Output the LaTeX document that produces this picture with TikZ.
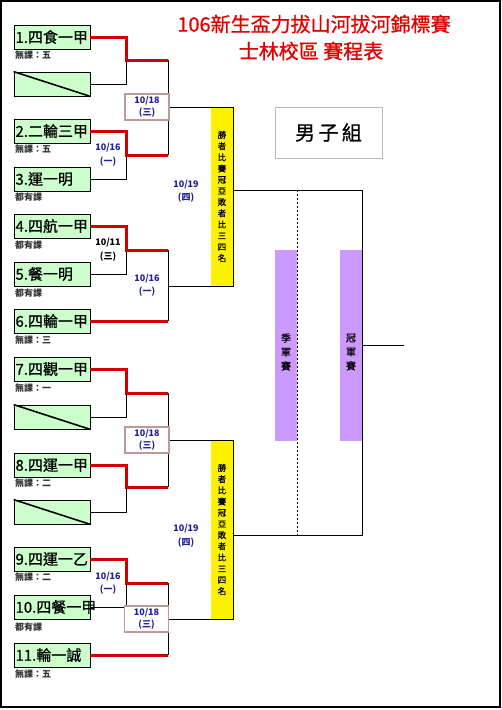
\documentclass[tikz,border=0pt]{standalone}
\usepackage{fontspec}
\setmainfont{Noto Sans CJK TC}
\newfontfamily\cjkmid{Noto Sans CJK TC}[FakeBold=0.8]
\definecolor{teamgreen}{HTML}{CCFFCC}
\definecolor{redline}{HTML}{D00000}
\definecolor{titlered}{HTML}{E00000}
\definecolor{roseb}{HTML}{C09A9A}
\definecolor{dateblue}{HTML}{1F1FA0}
\definecolor{purp}{HTML}{CC99FF}
\definecolor{subgray}{HTML}{333333}
\begin{document}
\begin{tikzpicture}[x=1pt,y=-1pt,
  team/.style={draw=black, line width=0.8pt, fill=teamgreen, minimum width=76pt, minimum height=24pt, inner xsep=1.5pt, inner ysep=0pt, text width=73pt, align=left, font=\fontsize{15}{15}\cjkmid},
  sub/.style={anchor=west, inner sep=0pt, font=\fontsize{9}{9}\selectfont\bfseries, text=subgray},
  win/.style={draw=redline, line width=3pt},
  lose/.style={draw=black, line width=0.9pt},
  datebox/.style={draw=roseb, line width=1.3pt, fill=white, minimum width=44pt, minimum height=26pt, inner sep=0pt, align=center, font=\fontsize{9}{12}\selectfont\bfseries, text=dateblue},
  datelbl/.style={align=center, inner sep=0pt, font=\fontsize{9}{13.5}\selectfont\bfseries, text=dateblue},
  ybar/.style={fill=yellow, draw=none, minimum width=22pt, inner sep=0pt, align=center, font=\fontsize{8.5}{11.2}\cjkmid},
  pbar/.style={fill=purp, draw=none, minimum width=22pt, minimum height=191pt, inner sep=0pt},
  vtext/.style={align=center, inner sep=0pt, font=\fontsize{10}{14}\cjkmid}
]
\useasboundingbox (0,0) rectangle (502,710);
\draw[line width=1.5pt] (1,1) rectangle (500,707);

% title
\node[font=\fontsize{20}{20}\cjkmid, text=titlered, inner sep=0pt] (title1) at (314,24) {106新生盃力拔山河拔河錦標賽};
\node[font=\fontsize{20}{20}\cjkmid, text=titlered, inner sep=0pt] (title2) at (311,51) {士林校區 賽程表};
\node[draw=gray!55, line width=1pt, minimum width=107pt, minimum height=51pt, font=\fontsize{20}{20}\cjkmid] (grp) at (328.5,132.5) {男\,子\,組};

% bars
\node[ybar, minimum height=179pt] (y1) at (222,196.5) {勝\\者\\比\\賽\\冠\\亞\\敗\\者\\比\\三\\四\\名};
\node[ybar, minimum height=179pt] (y2) at (222,529.5) {勝\\者\\比\\賽\\冠\\亞\\敗\\者\\比\\三\\四\\名};
\node[pbar] (p1) at (286,345.5) {};
\node[pbar] (p2) at (351,345.5) {};
\node[vtext] (p1t) at (286,352) {季\\軍\\賽};
\node[vtext] (p2t) at (351,352) {冠\\軍\\賽};

% teams
\node[team] (t1) at (52,37) {1.四食一甲};
\node[team] (e1) at (52,84) {};
\node[team] (t2) at (52,131) {2.二輪三甲};
\node[team] (t3) at (52,179) {3.運一明};
\node[team] (t4) at (52,226) {4.四航一甲};
\node[team] (t5) at (52,274) {5.餐一明};
\node[team] (t6) at (52,321) {6.四輪一甲};
\node[team] (t7) at (52,369) {7.四觀一甲};
\node[team] (e2) at (52,417) {};
\node[team] (t8) at (52,465) {8.四運一甲};
\node[team] (e3) at (52,512) {};
\node[team] (t9) at (52,559) {9.四運一乙};
\node[team] (t10) at (52,607) {10.四餐一甲};
\node[team] (t11) at (52,655) {11.輪一誠};
\foreach \e in {e1,e2,e3} \draw[line width=1.6pt] (\e.north west) -- (\e.south east);

\node[sub] (s1) at (15,55) {無課：五};
\node[sub] (s2) at (15,149) {無課：五};
\node[sub] (s3) at (15,197) {都有課};
\node[sub] (s4) at (15,245) {都有課};
\node[sub] (s5) at (15,293) {都有課};
\node[sub] (s6) at (15,340) {無課：三};
\node[sub] (s7) at (15,388) {無課：一};
\node[sub] (s8) at (15,483) {無課：二};
\node[sub] (s9) at (15,577) {無課：二};
\node[sub] (s10) at (15,627) {都有課};
\node[sub] (s11) at (15,674) {無課：五};

% coordinates
\coordinate (m1) at (126,60);  \coordinate (j1) at (168,60);
\coordinate (m2) at (126,155); \coordinate (j2) at (168,155);
\coordinate (k1) at (168,107); \coordinate (a1) at (233,107);
\coordinate (m3) at (126,250); \coordinate (j3) at (168,250);
\coordinate (j4) at (168,321);
\coordinate (k2) at (168,286); \coordinate (a2) at (233,286);
\coordinate (o1) at (233,190); \coordinate (f1) at (362,190);
\coordinate (m4) at (126,393); \coordinate (j5) at (168,393);
\coordinate (m5) at (126,487); \coordinate (j6) at (168,487);
\coordinate (k3) at (168,440); \coordinate (a3) at (233,440);
\coordinate (m6) at (126,583); \coordinate (j7) at (168,583);
\coordinate (j8) at (168,655);
\coordinate (k4) at (168,619); \coordinate (a4) at (233,619);
\coordinate (o2) at (233,535); \coordinate (f2) at (362,535);
\coordinate (fo) at (362,345); \coordinate (fe) at (404,345);
\coordinate (d1) at (297,190); \coordinate (d2) at (297,535);

% black lines
\draw[lose] (e1.east) -| (m1);
\draw[lose] (t3.east) -| (m2);
\draw[lose] (t5.east) -| (m3);
\draw[lose] (e2.east) -| (m4);
\draw[lose] (e3.east) -| (m5);
\draw[lose] (t10.east) -| (m6);
\draw[lose] (j1) -- (j2);
\draw[lose] (j3) -- (j4);
\draw[lose] (j5) -- (j6);
\draw[lose] (j7) -- (j8);
\draw[lose] (k1) -- (a1) -- (a2) -- (k2);
\draw[lose] (k3) -- (a3) -- (a4) -- (k4);
\draw[lose] (o1) -- (f1) -- (f2) -- (o2);
\draw[lose] (fo) -- (fe);
\draw[line width=0.9pt, dash pattern=on 2pt off 2pt] (d1) -- (d2);

% red lines
\draw[win] (t1.east) -| (m1) -- (j1);
\draw[win] (t2.east) -| (m2) -- (j2);
\draw[win] (t4.east) -| (m3) -- (j3);
\draw[win] (t6.east) -- (j4);
\draw[win] (t7.east) -| (m4) -- (j5);
\draw[win] (t8.east) -| (m5) -- (j6);
\draw[win] (t9.east) -| (m6) -- (j7);
\draw[win] (t11.east) -- (j8);

% date boxes
\node[datebox] (db1) at (147,107) {10/18\\(三)};
\node[datebox] (db2) at (147,440) {10/18\\(三)};
\node[datebox] (db3) at (146.5,619) {10/18\\(三)};

% date labels
\node[datelbl] (dl1) at (108,155) {10/16\\(一)};
\node[datelbl, text=black] (dl2) at (108,250) {10/11\\(三)};
\node[datelbl] (dl3) at (147,285.5) {10/16\\(一)};
\node[datelbl] (dl4) at (186,191.5) {10/19\\(四)};
\node[datelbl] (dl5) at (186,536) {10/19\\(四)};
\node[datelbl] (dl6) at (108,583.5) {10/16\\(一)};
\end{tikzpicture}
\end{document}
